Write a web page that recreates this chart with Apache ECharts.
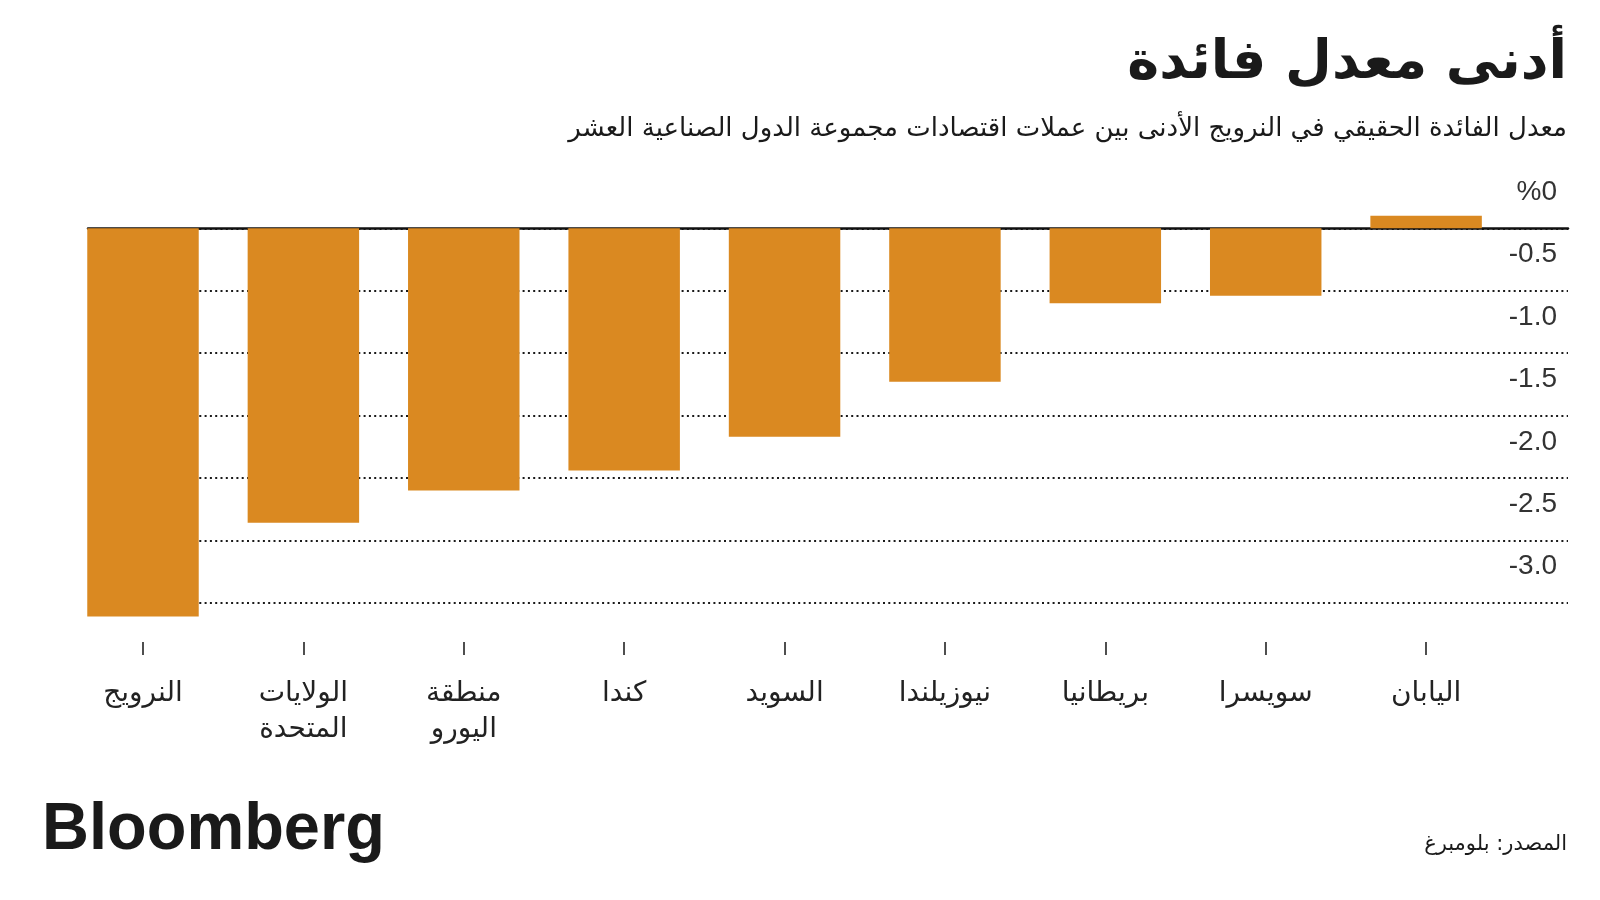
<!DOCTYPE html>
<html>
<head>
<meta charset="utf-8">
<script src="https://cdn.jsdelivr.net/npm/echarts@6/dist/echarts.min.js"></script>
<style>html,body{margin:0;padding:0;background:#fff}#c{width:1600px;height:900px}</style>
</head>
<body>
<div id="c"></div>
<script>
const titleText = 'أدنى معدل فائدة';
const subtitleText = 'معدل الفائدة الحقيقي في النرويج الأدنى بين عملات اقتصادات مجموعة الدول الصناعية العشر';
const sourceText = 'المصدر: بلومبرغ';
const logoText = 'Bloomberg';
const categories = ['النرويج', 'الولايات\nالمتحدة', 'منطقة\nاليورو', 'كندا', 'السويد', 'نيوزيلندا', 'بريطانيا', 'سويسرا', 'اليابان'];
const realRates = [-3.11, -2.36, -2.10, -1.94, -1.67, -1.23, -0.60, -0.54, 0.10];
const yTickLabels = ['%0', '-0.5', '-1.0', '-1.5', '-2.0', '-2.5', '-3.0'];

const arabicFont = '"DejaVu Sans", "Noto Sans", sans-serif';
const chart = echarts.init(document.getElementById('c'));
chart.setOption({
  backgroundColor: '#ffffff',
  animation: false,
  grid: [
    { left: 62.8, right: 93.7, top: 165.9, bottom: 234.9 },
    { left: 88, right: 32, top: 228.3, bottom: 297.3 }
  ],
  xAxis: [
    {
      type: 'category', gridIndex: 0, data: categories, position: 'bottom', offset: -23,
      axisLine: { show: false, onZero: false },
      axisTick: { show: true, alignWithLabel: true, length: 13, lineStyle: { color: '#222', width: 1.6 } },
      axisLabel: { margin: 34, fontFamily: arabicFont, fontSize: 28, color: '#222', lineHeight: 36 }
    },
    {
      type: 'value', gridIndex: 1, position: 'top', min: 0, max: 1,
      axisLine: { show: true, onZero: false, lineStyle: { color: '#111', width: 2.5 } },
      axisTick: { show: false }, axisLabel: { show: false }, splitLine: { show: false }
    }
  ],
  yAxis: [
    { type: 'value', gridIndex: 0, min: -3.5, max: 0.5, interval: 0.5, show: false },
    {
      type: 'value', gridIndex: 1, min: -3, max: 0, interval: 0.5, position: 'right',
      axisLine: { show: false }, axisTick: { show: false },
      axisLabel: {
        inside: true, margin: 11, verticalAlign: 'bottom', padding: [0, 0, 22, 0],
        fontFamily: '"Liberation Sans", Arial, sans-serif', fontSize: 28, color: '#333',
        formatter: function (v) { return yTickLabels[Math.round(-v / 0.5)]; }
      },
      splitLine: { show: true, lineStyle: { color: '#1a1a1a', width: 2, type: [2, 3.3] } }
    }
  ],
  series: [
    {
      type: 'bar', xAxisIndex: 0, yAxisIndex: 0, data: realRates, barWidth: '69.5%',
      itemStyle: { color: '#DA8921' }, clip: false, z: 3
    }
  ],
  graphic: [
    { type: 'text', right: 33, top: 37, style: { text: titleText, font: 'bold 54px ' + arabicFont, fill: '#1a1a1a', textAlign: 'right' } },
    { type: 'text', right: 33, top: 116, style: { text: subtitleText, font: '26px ' + arabicFont, fill: '#1a1a1a', textAlign: 'right' } },
    { type: 'text', right: 33, top: 834, style: { text: sourceText, font: '21px ' + arabicFont, fill: '#1a1a1a', textAlign: 'right' } },
    { type: 'text', left: 42, top: 797, scaleX: 0.97, style: { text: logoText, font: 'bold 67px "Liberation Sans", Arial, sans-serif', fill: '#1a1a1a' } }
  ]
});
</script>
</body>
</html>
